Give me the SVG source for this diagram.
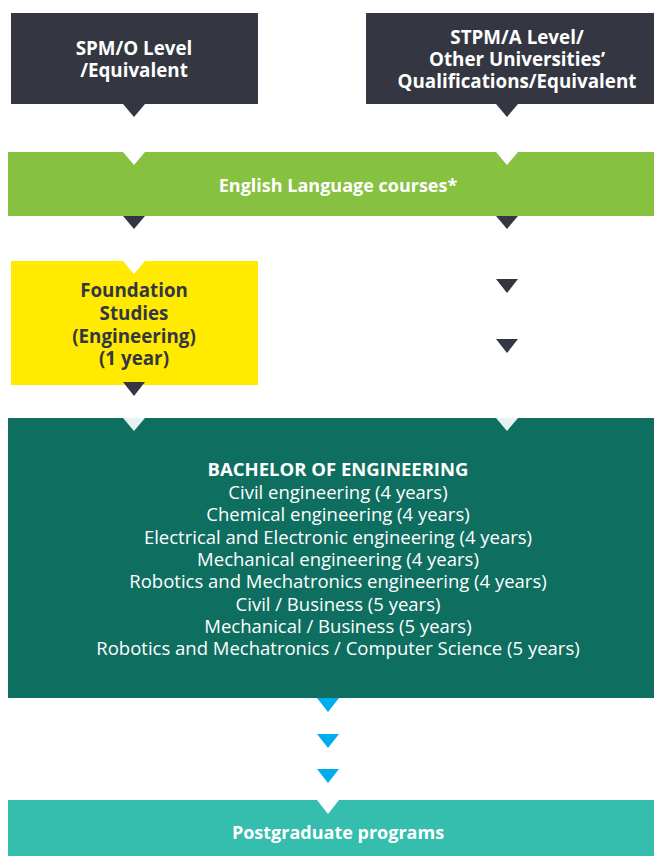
<svg xmlns="http://www.w3.org/2000/svg" width="654" height="856" viewBox="0 0 654 856">
<style>
.t{font-family:"Open Sans","Noto Sans","Liberation Sans",sans-serif;text-anchor:middle}
.b{font-weight:700}
.w{fill:#ffffff}
.d{fill:#343741}
.bl{fill:#00aeef}
.n{fill:#ffffff}
.h{font-size:18.8px}
.r{font-size:18.5px}
</style>
<rect width="654" height="856" fill="#ffffff"/>
<g id="spm">
<rect x="11" y="13" width="247" height="91" fill="#343741"/>
<text class="t b w h" x="134" y="55">SPM/O Level</text>
<text class="t b w h" x="134" y="77">/Equivalent</text>
</g>
<g id="stpm">
<rect x="366" y="13" width="288" height="91" fill="#343741"/>
<text class="t b w h" x="517" y="44">STPM/A Level/</text>
<text class="t b w h" x="517" y="66">Other Universities’</text>
<text class="t b w h" x="517" y="88">Qualifications/Equivalent</text>
</g>
<g id="english">
<rect x="8" y="152" width="646" height="64" fill="#86c240"/>
<polygon class="n" points="123,152 145,152 134,165"/>
<polygon class="n" points="496,152 518,152 507,165"/>
<text class="t b w" x="338" y="192" font-size="18">English Language courses*</text>
</g>
<g id="foundation">
<rect x="11" y="261" width="247" height="124" fill="#ffea00"/>
<polygon class="n" points="123,261 145,261 134,274"/>
<text class="t b h" fill="#343741" x="134" y="297">Foundation</text>
<text class="t b h" fill="#343741" x="134" y="320">Studies</text>
<text class="t b h" fill="#343741" x="134" y="343">(Engineering)</text>
<text class="t b h" fill="#343741" x="134" y="365">(1 year)</text>
</g>
<g id="bachelor">
<rect x="8" y="418" width="646" height="280" fill="#0e6e60"/>
<polygon fill="#e6f3f1" points="123,418 145,418 134,431"/>
<polygon fill="#e6f3f1" points="496,418 518,418 507,431"/>
<text class="t b w r" x="338" y="476">BACHELOR OF ENGINEERING</text>
<text class="t w r" x="338" y="499">Civil engineering (4 years)</text>
<text class="t w r" x="338" y="521">Chemical engineering (4 years)</text>
<text class="t w r" x="338" y="544">Electrical and Electronic engineering (4 years)</text>
<text class="t w r" x="338" y="566">Mechanical engineering (4 years)</text>
<text class="t w r" x="338" y="588">Robotics and Mechatronics engineering (4 years)</text>
<text class="t w r" x="338" y="611">Civil / Business (5 years)</text>
<text class="t w r" x="338" y="633">Mechanical / Business (5 years)</text>
<text class="t w r" x="338" y="655">Robotics and Mechatronics / Computer Science (5 years)</text>
</g>
<g id="postgrad">
<rect x="8" y="800" width="646" height="56" fill="#35bdad"/>
<polygon class="n" points="317,800 339,800 328,814"/>
<text class="t b w" x="338" y="839" font-size="18">Postgraduate programs</text>
</g>
<g id="connectors">
<polygon class="d" points="123,104 145,104 134,117"/>
<polygon class="d" points="496,104 518,104 507,117"/>
<polygon class="d" points="123,216 145,216 134,229"/>
<polygon class="d" points="496,216 518,216 507,229"/>
<polygon class="d" points="496,279 518,279 507,293"/>
<polygon class="d" points="496,339 518,339 507,353"/>
<polygon class="d" points="123,382 145,382 134,396"/>
<polygon class="bl" points="317,698 339,698 328,712"/>
<polygon class="bl" points="317,734 339,734 328,748"/>
<polygon class="bl" points="317,769 339,769 328,783"/>
</g>
</svg>
